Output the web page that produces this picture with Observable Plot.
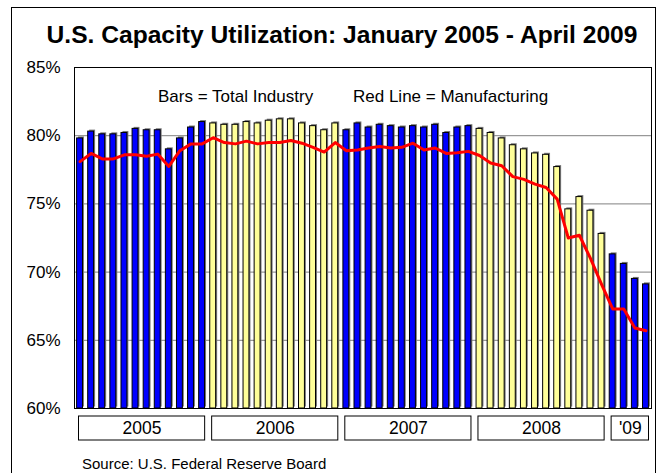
<!DOCTYPE html>
<html><head><meta charset="utf-8">
<script src="https://cdn.jsdelivr.net/npm/d3@7"></script>
<script src="https://cdn.jsdelivr.net/npm/@observablehq/plot@0.6"></script>
<style>
body{margin:0;background:#fff;font-family:Arial,"Liberation Sans",sans-serif;width:664px;height:473px;overflow:hidden;position:relative;}
#frame{position:absolute;left:11px;top:7px;width:645px;height:520px;border:1px solid #000;box-sizing:border-box;}
#title{position:absolute;left:10px;top:23.3px;width:664px;text-align:center;font-weight:bold;font-size:24.6px;line-height:24.6px;color:#000;white-space:nowrap;}
#main{position:absolute;left:0;top:0;}
#years{position:absolute;left:0;top:410px;}
.leg{position:absolute;top:88.3px;font-size:17px;line-height:17px;color:#000;white-space:nowrap;}
#source{position:absolute;left:82px;top:456.3px;font-size:15px;line-height:15px;color:#000;white-space:nowrap;}
</style></head>
<body>
<div id="frame"></div>
<div id="title">U.S. Capacity Utilization: January 2005 - April 2009</div>
<div id="main"></div>
<div id="years"></div>
<div class="leg" style="left:158px">Bars = Total Industry</div>
<div class="leg" style="left:353px">Red Line = Manufacturing</div>
<div id="source">Source: U.S. Federal Reserve Board</div>
<script>
const yearLabels = ["2005", "2006", "2007", "2008", "'09"];
const yearMonths = [12, 12, 12, 12, 4];
const yearColors = ["#0000FF", "#FFFF99", "#0000FF", "#FFFF99", "#0000FF"];
const totalIndustry = [
  79.8, 80.3, 80.1, 80.1, 80.2, 80.5, 80.4, 80.4, 79.0, 79.8, 80.6, 81.0,
  80.9, 80.8, 80.8, 81.0, 80.9, 81.1, 81.2, 81.2, 80.9, 80.7, 80.4, 80.9,
  80.4, 80.9, 80.6, 80.8, 80.7, 80.6, 80.7, 80.6, 80.8, 80.2, 80.6, 80.7,
  80.5, 80.2, 79.8, 79.3, 79.0, 78.7, 78.6, 77.7, 74.6, 75.5, 74.5, 72.8,
  71.3, 70.6, 69.5, 69.1
];
const manufacturing = [
  78.1, 78.7, 78.3, 78.3, 78.6, 78.6, 78.5, 78.65, 77.75, 78.9, 79.4, 79.4,
  79.85, 79.5, 79.4, 79.6, 79.4, 79.5, 79.5, 79.65, 79.45, 79.15, 78.8, 79.5,
  78.9, 78.95, 79.1, 79.2, 79.1, 79.15, 79.45, 78.95, 79.1, 78.7, 78.75, 78.85,
  78.55, 78.0, 77.8, 77.0, 76.8, 76.45, 76.2, 75.35, 72.5, 72.7, 71.0, 69.1,
  67.3, 67.3, 65.9, 65.7
];
const yTicks = [60, 65, 70, 75, 80, 85];
const gridTicks = [65, 70, 75, 80];

const font = 'Arial, "Liberation Sans", sans-serif';
const yearOf = [];
yearMonths.forEach((n, k) => { for (let j = 0; j < n; j++) yearOf.push(k); });
const months = totalIndustry.map((v, i) => ({i, total: v, manuf: manufacturing[i], color: yearColors[yearOf[i]]}));
let acc = 0;
const years = yearLabels.map((label, k) => { const s = acc; acc += yearMonths[k]; return {label, start: s, end: acc}; });
const nMonths = totalIndustry.length;
const base = yTicks[0];

const main = Plot.plot({
  width: 664, height: 428,
  marginLeft: 74, marginRight: 13, marginTop: 67, marginBottom: 20,
  style: {fontFamily: font, fontSize: "17px", color: "#000", background: "transparent"},
  x: {domain: [0, nMonths], axis: null},
  y: {domain: [yTicks[0], yTicks[yTicks.length - 1]]},
  marks: [
    Plot.ruleY(gridTicks, {stroke: "#808080", strokeWidth: 1}),
    Plot.rectY(months, {x1: "i", x2: d => d.i + 1, y1: base, y2: "total", insetLeft: 2.6, insetRight: 2.6, fill: "#7a7a7a", dx: 1.5, dy: -1.5}),
    Plot.rectY(months, {x1: "i", x2: d => d.i + 1, y1: base, y2: "total", insetLeft: 2.6, insetRight: 2.6, fill: "color", stroke: "#000", strokeWidth: 1}),
    Plot.line(months, {x: d => d.i + 0.5, y: "manuf", stroke: "#FF0000", strokeWidth: 3, strokeLinejoin: "round"}),
    Plot.frame({stroke: "#000", strokeWidth: 1}),
    Plot.axisY({ticks: yTicks, tickSize: 0, tickPadding: 14, tickFormat: d => d + "%", fontSize: 17, fill: "#000"})
  ]
});
document.getElementById("main").appendChild(main);

const yr = Plot.plot({
  width: 664, height: 36,
  marginLeft: 74, marginRight: 13, marginTop: 0, marginBottom: 0,
  style: {fontFamily: font, fontSize: "17.5px", color: "#000", background: "transparent"},
  x: {domain: [0, nMonths], axis: null},
  marks: [
    Plot.rect(years, {x1: "start", x2: "end", insetLeft: 4.5, insetRight: 2.5, insetTop: 6, insetBottom: 6, fill: "#fff", stroke: "#000", strokeWidth: 1}),
    Plot.text(years, {x: d => (d.start + d.end) / 2, dx: 1, text: "label", frameAnchor: "middle", fontSize: 17.5, fill: "#000"})
  ]
});
document.getElementById("years").appendChild(yr);
</script>
</body></html>
